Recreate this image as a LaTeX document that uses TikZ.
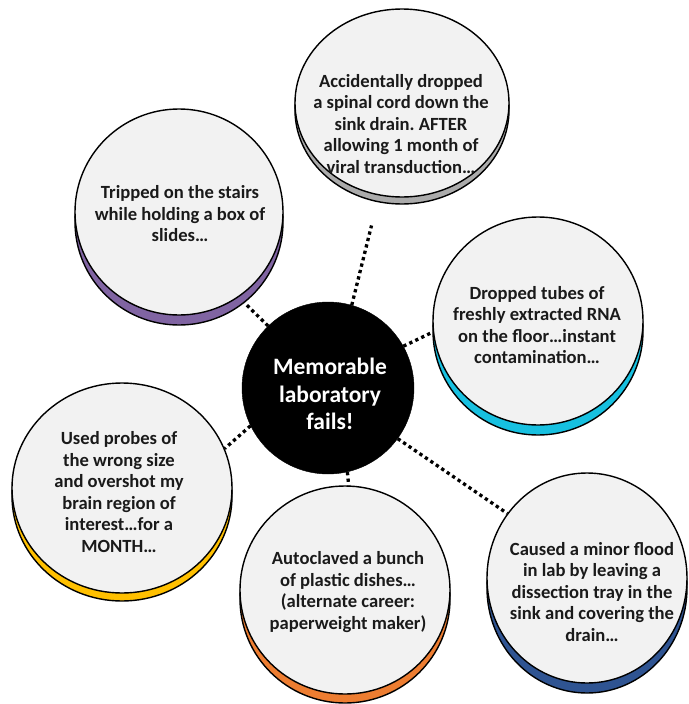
\documentclass[tikz,border=0pt]{standalone}
\usepackage{fontspec}
\setmainfont{Carlito}
\usetikzlibrary{shapes.geometric}
\definecolor{fillgray}{HTML}{F2F2F2}
\definecolor{cpurple}{HTML}{8064A2}
\definecolor{cgray}{HTML}{ABABAB}
\definecolor{ccyan}{HTML}{17C0E0}
\definecolor{cnavy}{HTML}{2F5492}
\definecolor{corange}{HTML}{ED7D31}
\definecolor{cyellow}{HTML}{FFC000}
\definecolor{txtc}{HTML}{1A1A1A}
\frenchspacing
\begin{document}
\begin{tikzpicture}[x=1pt,y=-1pt]
\tikzset{
  disk/.style={ellipse, draw=black, line width=1.4pt, fill=fillgray, inner sep=0pt},
  band/.style={ellipse, draw=black, line width=1.4pt, inner sep=0pt},
  txt/.style={font=\bfseries\fontsize{18.6}{21.5}\selectfont, align=center, text=txtc},
  conn/.style={line width=3.3pt, dash pattern=on 3.3pt off 3.3pt}
}
\useasboundingbox (0,0) rectangle (688,704);

% central node
\node[ellipse, fill=black, draw=black, minimum width=172pt, minimum height=172pt, inner sep=0pt] (center) at (328,388) {};
\node[font=\bfseries\fontsize{23.5}{27.5}\selectfont, align=center, text=white] (tc) at (330,394) {Memorable\\laboratory\\fails!};

% purple (top-left)
\node[band, fill=cpurple, minimum width=208pt, minimum height=206pt] (b1) at (179,222) {};
\node[disk, minimum width=208pt, minimum height=206pt] (c1) at (179,212) {};
\node[txt] (t1) at (180,214) {Tripped on the stairs\\while holding a box of\\slides…};

% gray (top)
\node[band, fill=cgray, minimum width=214pt, minimum height=188pt] (b2) at (402,110) {};
\node[disk, minimum width=214pt, minimum height=188pt] (c2) at (402,103) {};
\node[txt] (t2) at (401,124) {Accidentally dropped\\a spinal cord down the\\sink drain. AFTER\\allowing 1 month of\\viral transduction…};

% cyan (right)
\node[band, fill=ccyan, minimum width=210pt, minimum height=208pt] (b3) at (538,331) {};
\node[disk, minimum width=210pt, minimum height=208pt] (c3) at (538,321) {};
\node[txt] (t3) at (537,325) {Dropped tubes of\\freshly extracted RNA\\on the floor…instant\\contamination…};

% navy (bottom-right)
\node[band, fill=cnavy, minimum width=200pt, minimum height=210pt] (b4) at (587,588) {};
\node[disk, minimum width=200pt, minimum height=210pt] (c4) at (587,578) {};
\node[txt] (t4) at (592,592) {Caused a minor flood\\in lab by leaving a\\dissection tray in the\\sink and covering the\\drain…};

% orange (bottom)
\node[band, fill=corange, minimum width=210pt, minimum height=208pt] (b5) at (345,599) {};
\node[disk, minimum width=210pt, minimum height=208pt] (c5) at (345,590) {};
\node[txt] (t5) at (348,592) {Autoclaved a bunch\\of plastic dishes…\\(alternate career:\\paperweight maker)};

% yellow (left)
\node[band, fill=cyellow, minimum width=220pt, minimum height=210pt] (b6) at (122,496) {};
\node[disk, minimum width=220pt, minimum height=210pt] (c6) at (122,488) {};
\node[txt] (t6) at (119,492) {Used probes of\\the wrong size\\and overshot my\\brain region of\\interest…for a\\MONTH…};

% connectors
\draw[conn] (center.134) -- (b1.-51);
\draw[conn, shorten >=24pt] (center.74) -- (b2.-105);
\draw[conn] (center.29) -- (c3.186);
\draw[conn] (center.-36) -- (c4.141);
\draw[conn] (center.-77) -- (c5.88);
\draw[conn] (center.206) -- (c6.21);
\end{tikzpicture}
\end{document}
